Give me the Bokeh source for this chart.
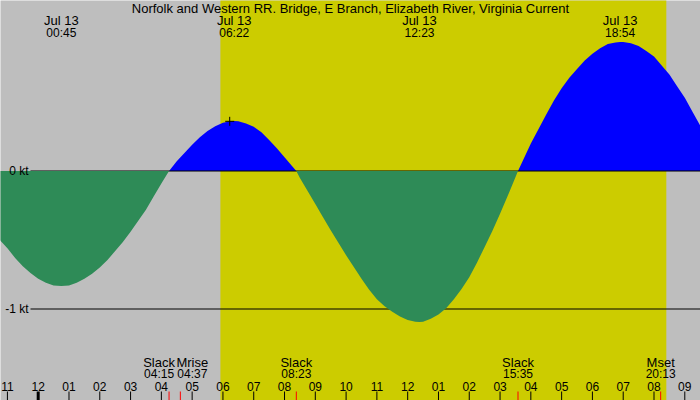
from bokeh.plotting import figure
from bokeh.models import Range1d, ColumnDataSource
from bokeh.core.properties import value
from bokeh.embed import file_html
from bokeh.resources import INLINE

# ---------------- data ----------------
TITLE = "Norfolk and Western RR. Bridge, E Branch, Elizabeth River, Virginia Current"
DATE_LABEL = "Jul 13"

# hours since midnight Jul 13 and current speed in knots (flood +, ebb -)
t_hours = [-1.5, -1.25, -1.0, -0.75, -0.5, -0.25, 0.0, 0.25, 0.5, 0.75, 1.0, 1.25, 1.5, 1.75,
           2.0, 2.25, 2.5, 2.75, 3.0, 3.25, 3.5, 3.75, 4.0, 4.25,
           4.5, 4.75, 5.0, 5.25, 5.5, 5.75, 6.0, 6.25, 6.367, 6.5, 6.75, 7.0, 7.25, 7.5, 7.75,
           8.0, 8.25, 8.383,
           8.5, 8.75, 9.0, 9.25, 9.5, 9.75, 10.0, 10.25, 10.5, 10.75, 11.0, 11.25, 11.5, 11.75,
           12.0, 12.25, 12.383, 12.5, 12.75, 13.0, 13.25, 13.5, 13.75, 14.0, 14.25, 14.5, 14.75,
           15.0, 15.25, 15.5, 15.583,
           15.75, 16.0, 16.25, 16.5, 16.75, 17.0, 17.25, 17.5, 17.75, 18.0, 18.25, 18.5, 18.75,
           18.9, 19.0, 19.25, 19.5, 19.75, 20.0, 20.25, 20.5, 20.75, 21.0, 21.25, 21.5, 21.75, 22.0]
speed_kt = [-0.44, -0.50, -0.56, -0.63, -0.69, -0.74, -0.78, -0.81, -0.83, -0.833, -0.83, -0.81, -0.78, -0.745,
            -0.70, -0.645, -0.58, -0.515, -0.44, -0.36, -0.28, -0.185, -0.09, 0.0,
            0.07, 0.13, 0.19, 0.245, 0.29, 0.325, 0.35, 0.36, 0.362, 0.36, 0.345, 0.32, 0.28, 0.225, 0.165,
            0.10, 0.035, 0.0,
            -0.05, -0.145, -0.24, -0.335, -0.43, -0.52, -0.61, -0.695, -0.78, -0.86, -0.93, -0.98, -1.02, -1.055,
            -1.08, -1.092, -1.094, -1.092, -1.07, -1.04, -0.995, -0.93, -0.855, -0.77, -0.665, -0.55, -0.435,
            -0.31, -0.18, -0.045, 0.0,
            0.08, 0.20, 0.305, 0.41, 0.51, 0.60, 0.675, 0.74, 0.80, 0.85, 0.89, 0.92, 0.932,
            0.935, 0.934, 0.925, 0.905, 0.87, 0.83, 0.765, 0.70, 0.615, 0.53, 0.43, 0.33, 0.23, 0.13]

peak_times = ["00:45", "06:22", "12:23", "18:54"]

event_names = ["Slack", "Mrise", "Slack", "Slack", "Mset"]
event_times = ["04:15", "04:37", "08:23", "15:35", "20:13"]

sunrise = "05:55"
sunset = "20:24"

kt_levels = [0, -1]
kt_labels = ["0 kt", "-1 kt"]

hour_ticks = list(range(-1, 22))
hour_labels = ["%02d" % ((h % 12) or 12) for h in hour_ticks]

marker_time = [6.22]
marker_kt = [0.36]

# ---------------- layout / style ----------------
W, H = 700, 400
PX_PER_HR = 30.79
X0_PX = 37.7
PX_PER_KT = 138.0
Y0_PX = 170.5
GRAY = "#BEBEBE"
YELLOW = "#CCCC00"
BLUE = "#0000FF"
GREEN = "#2E8B57"
FONT = "Liberation Sans"
FS_NUM = "12px"
FS_WORD = "13px"
event_label_shift = [-10, 12, 0, 0, 0]


def hx(px):
    return (px - X0_PX) / PX_PER_HR


def ky(py):
    return (Y0_PX - py) / PX_PER_KT


def hrs(s):
    hh, mm = s.split(":")
    return int(hh) + int(mm) / 60.0


p = figure(width=W, height=H, x_range=Range1d(hx(0), hx(W)), y_range=Range1d(ky(H), ky(0)),
           x_axis_type=None, y_axis_type=None, toolbar_location=None, output_backend="svg",
           min_border=0, outline_line_color=None,
           background_fill_color=GRAY, border_fill_color=GRAY)

# daylight
p.quad(left=[hrs(sunrise)], right=[hrs(sunset)], bottom=[ky(H) - 1], top=[ky(0) + 1],
       fill_color=YELLOW, line_color=None)

pos = [max(v, 0) for v in speed_kt]
neg = [min(v, 0) for v in speed_kt]
p.varea(x=t_hours, y1=[0] * len(t_hours), y2=pos, fill_color=BLUE)

p.segment(x0=[hx(30)] * len(kt_levels), y0=kt_levels, x1=[hx(W + 2)] * len(kt_levels), y1=kt_levels,
          line_color="black", line_width=1)

p.varea(x=t_hours, y1=[0] * len(t_hours), y2=neg, fill_color=GREEN)

kw_num = dict(text_font=value(FONT), text_font_size=FS_NUM, text_color="black")
kw_word = dict(text_font=value(FONT), text_font_size=FS_WORD, text_color="black")

p.text(x=[hx(28)] * len(kt_levels), y=kt_levels, text=kt_labels,
       text_align="right", text_baseline="middle", **kw_num)

# title
p.text(x=[hx(350)], y=[ky(7.5)], text=[TITLE], text_align="center", text_baseline="middle", **kw_word)

# peak labels
px_ = [hrs(t) for t in peak_times]
p.text(x=px_, y=[ky(19.5)] * len(px_), text=[DATE_LABEL] * len(px_),
       text_align="center", text_baseline="middle", **kw_word)
p.text(x=px_, y=[ky(32.5)] * len(px_), text=peak_times,
       text_align="center", text_baseline="middle", **kw_num)

# hour ticks
normal = [h for h in hour_ticks if h % 24 != 0]
midn = [h for h in hour_ticks if h % 24 == 0]
p.segment(x0=normal, x1=normal, y0=[ky(391)] * len(normal), y1=[ky(H + 2)] * len(normal),
          line_color="black", line_width=1)
p.segment(x0=midn, x1=midn, y0=[ky(391)] * len(midn), y1=[ky(H + 2)] * len(midn),
          line_color="black", line_width=3)
p.text(x=hour_ticks, y=[ky(385.5)] * len(hour_ticks), text=hour_labels,
       text_align="center", text_baseline="middle", **kw_num)

# event ticks and labels
ex = [hrs(t) for t in event_times]
p.segment(x0=ex, x1=ex, y0=[ky(391)] * len(ex), y1=[ky(H + 2)] * len(ex),
          line_color="#FF0000", line_width=1)
src = ColumnDataSource(dict(x=ex, name=event_names, time=event_times, dx=event_label_shift,
                            y1=[ky(362)] * len(ex), y2=[ky(373.5)] * len(ex)))
p.text(x="x", y="y1", text="name", x_offset="dx", source=src,
       text_align="center", text_baseline="middle", **kw_word)
p.text(x="x", y="y2", text="time", x_offset="dx", source=src,
       text_align="center", text_baseline="middle", **kw_num)

p.scatter(x=marker_time, y=marker_kt, marker="cross", size=9, line_color="black", line_width=1)

open("out.html", "w").write(file_html(p, INLINE))
